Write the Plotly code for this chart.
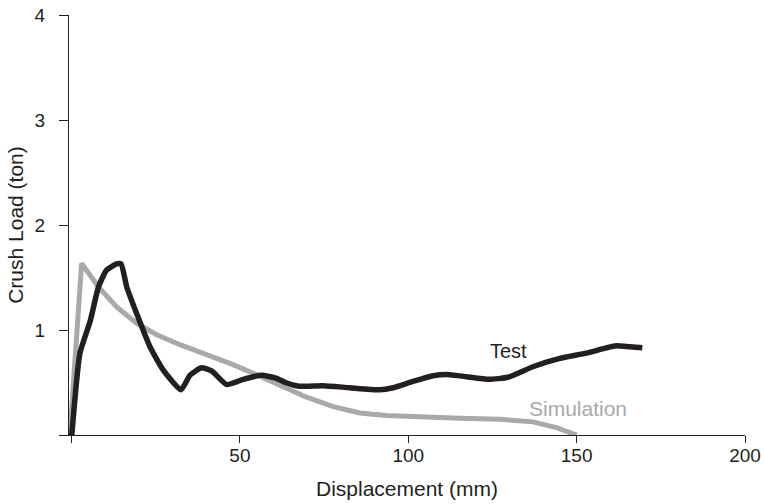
import plotly.graph_objects as go

# Test (black) curve
test_x = [0, 2.5, 5.5, 8.0, 10.4, 13.4, 14.7, 16.4, 19.3, 23.3, 27.2, 32.5, 35.2, 38.6, 41.6,
          46.1, 51.0, 56.4, 60.9, 63.5, 67.5, 74.7, 82.6, 91.5, 95.5, 101.4, 107.4, 112.3, 117.3,
          124.0, 129.6, 137.0, 145.0, 152.9, 158.8, 161.8, 165.7, 169.5]
test_y = [-0.03, 0.78, 1.08, 1.41, 1.57, 1.63, 1.63, 1.41, 1.16, 0.84, 0.62, 0.43, 0.57, 0.64, 0.61,
          0.48, 0.53, 0.57, 0.54, 0.50, 0.465, 0.47, 0.45, 0.43, 0.45, 0.51, 0.565, 0.575, 0.555,
          0.53, 0.55, 0.65, 0.73, 0.78, 0.83, 0.85, 0.84, 0.83]

# Simulation (grey) curve
sim_x = [-0.5, 3.0, 8.0, 13.4, 19.3, 25.3, 32.2, 40.1, 48.0, 55.9, 63.9, 69.8, 77.7, 85.6,
         93.5, 102.4, 115.3, 127.2, 137.0, 144.0, 150.0]
sim_y = [0.0, 1.635, 1.41, 1.22, 1.065, 0.955, 0.86, 0.77, 0.67, 0.56, 0.45, 0.36, 0.27, 0.21,
         0.185, 0.17, 0.16, 0.15, 0.125, 0.07, 0.0]

x_ticks = [0, 50, 100, 150, 200]
x_tick_text = ["", "50", "100", "150", "200"]
y_ticks = [0, 1, 2, 3, 4]
y_tick_text = ["", "1", "2", "3", "4"]

BLACK = "#231f20"
GREY = "#a7a9ac"
FONT = "Liberation Sans, Arial, sans-serif"

fig = go.Figure()
fig.add_trace(go.Scatter(x=sim_x, y=sim_y, mode="lines",
                         line=dict(color=GREY, width=5), showlegend=False))
fig.add_trace(go.Scatter(x=test_x, y=test_y, mode="lines",
                         line=dict(color=BLACK, width=5.5, shape="spline", smoothing=0.5),
                         showlegend=False))

fig.add_annotation(x=129.8, y=0.80, text="Test", showarrow=False,
                   font=dict(family=FONT, size=20, color=BLACK))
fig.add_annotation(x=150.3, y=0.255, text="Simulation", showarrow=False,
                   font=dict(family=FONT, size=21, color=GREY))

fig.update_layout(
    width=764, height=504,
    margin=dict(l=69, r=19, t=15, b=68.5),
    paper_bgcolor="white", plot_bgcolor="white",
    font=dict(family=FONT, color=BLACK),
    xaxis=dict(range=[-0.75, 200], tickvals=x_ticks, ticktext=x_tick_text, automargin=False,
               showgrid=False, zeroline=False, showline=True, linecolor=BLACK, linewidth=1.2,
               ticks="outside", ticklen=7, tickcolor=BLACK, tickwidth=1.2,
               ticklabelstandoff=-4,
               tickfont=dict(family=FONT, size=19, color=BLACK),
               title=dict(text="Displacement (mm)", font=dict(family=FONT, size=21, color=BLACK),
                          standoff=16)),
    yaxis=dict(range=[0, 4], tickvals=y_ticks, ticktext=y_tick_text, automargin=False,
               showgrid=False, zeroline=False, showline=True, linecolor=BLACK, linewidth=1.2,
               ticks="outside", ticklen=9, tickcolor=BLACK, tickwidth=1.2,
               ticklabelstandoff=10,
               tickfont=dict(family=FONT, size=19, color=BLACK),
               title=dict(text="Crush Load (ton)", font=dict(family=FONT, size=21, color=BLACK),
                          standoff=5)),
)

fig.write_html("out.html")
